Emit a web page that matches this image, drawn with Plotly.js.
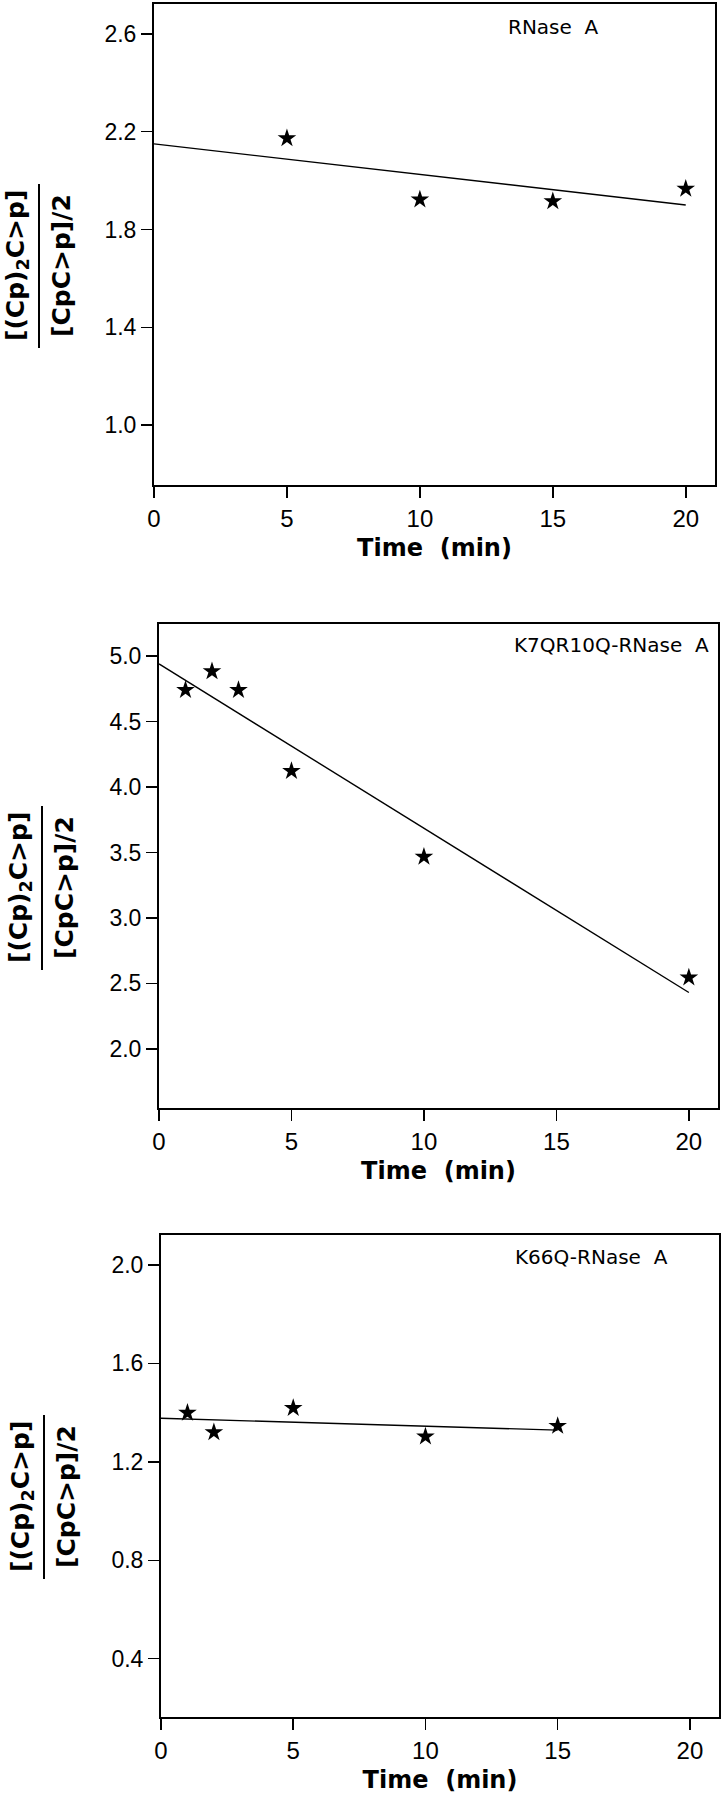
<!DOCTYPE html>
<html>
<head>
<meta charset="utf-8">
<script src="https://cdn.plot.ly/plotly-3.0.1.min.js"></script>
<style>
body { margin: 0; background: #fff; }
#chart { width: 724px; height: 1800px; }
</style>
</head>
<body>
<div id="chart"></div>
<script>
// RNase A
var wtTime = [5, 10, 15, 20];
var wtRatio = [2.173, 1.922, 1.915, 1.966];
var wtFitX = [0, 20];
var wtFitY = [2.15, 1.90];

// K7QR10Q-RNase A
var k7Time = [1, 2, 3, 5, 10, 20];
var k7Ratio = [4.741, 4.883, 4.741, 4.122, 3.467, 2.545];
var k7FitX = [0, 20];
var k7FitY = [4.94, 2.43];

// K66Q-RNase A
var k66Time = [1, 2, 5, 10, 15];
var k66Ratio = [1.399, 1.320, 1.419, 1.303, 1.346];
var k66FitX = [0, 15];
var k66FitY = [1.377, 1.329];

var panelNames = ['RNase\u00a0 A', 'K7QR10Q-RNase\u00a0 A', 'K66Q-RNase\u00a0 A'];
var xTicks = [0, 5, 10, 15, 20];
var yTicks1 = [1.0, 1.4, 1.8, 2.2, 2.6];
var yTicks2 = [2.0, 2.5, 3.0, 3.5, 4.0, 4.5, 5.0];
var yTicks3 = [0.4, 0.8, 1.2, 1.6, 2.0];

var W = 724, H = 1800;
var font = 'Liberation Sans, Arial, sans-serif';
var boldFont = 'DejaVu Sans, sans-serif';

// panel boxes in page pixels: left, right, top, bottom
var boxes = [
  {l: 154, r: 715, t: 4, b: 485, yr: [0.755, 2.722], ticks: yTicks1, titleY: 266, dx: 0,
   labelX: 506, labelY: 27},
  {l: 159, r: 718, t: 624, b: 1108, yr: [1.548, 5.245], ticks: yTicks2, titleY: 888, dx: 3,
   labelX: 512, labelY: 645},
  {l: 161, r: 719, t: 1235, b: 1717, yr: [0.163, 2.122], ticks: yTicks3, titleY: 1497, dx: 5,
   labelX: 513, labelY: 1257}
];

function xAxis(box, anchor) {
  return {
    domain: [box.l / W, box.r / W],
    anchor: anchor,
    range: [0, 21.1],
    tickvals: xTicks,
    ticks: 'outside', ticklen: 11, tickwidth: 1.5, tickcolor: '#000',
    showline: true, linewidth: 2, linecolor: '#000', mirror: true,
    showgrid: false, zeroline: false,
    tickfont: {family: font, size: 24, color: '#000'},
    title: {text: '<b>Time\u00a0 (min)</b>', standoff: 8,
            font: {family: boldFont, size: 24, color: '#000'}}
  };
}

function yAxis(box, anchor) {
  return {
    domain: [1 - box.b / H, 1 - box.t / H],
    anchor: anchor,
    range: box.yr,
    tickvals: box.ticks,
    tickformat: '.1f',
    ticks: 'outside', ticklen: 11, tickwidth: 1.5, tickcolor: '#000',
    showline: true, linewidth: 2, linecolor: '#000', mirror: true,
    showgrid: false, zeroline: false,
    tickfont: {family: font, size: 23, color: '#000'}
  };
}

function stars(x, y, n) {
  return {
    x: x, y: y, xaxis: 'x' + n, yaxis: 'y' + n,
    type: 'scatter', mode: 'markers',
    marker: {symbol: 'star', size: 14, color: '#000'},
    hoverinfo: 'x+y'
  };
}

function fit(x, y, n) {
  return {
    x: x, y: y, xaxis: 'x' + n, yaxis: 'y' + n,
    type: 'scatter', mode: 'lines',
    line: {color: '#000', width: 1.4},
    hoverinfo: 'skip'
  };
}

var data = [
  fit(wtFitX, wtFitY, ''), stars(wtTime, wtRatio, ''),
  fit(k7FitX, k7FitY, 2), stars(k7Time, k7Ratio, 2),
  fit(k66FitX, k66FitY, 3), stars(k66Time, k66Ratio, 3)
];

var annotations = [];
var shapes = [];
boxes.forEach(function(box, i) {
  var cy = 1 - box.titleY / H;
  annotations.push({
    xref: 'paper', yref: 'paper', x: (17 + box.dx) / W, y: cy,
    xanchor: 'center', yanchor: 'middle', textangle: -90, showarrow: false,
    text: '<b>[(Cp)<sub>2</sub>C&gt;p]</b>',
    font: {family: boldFont, size: 25, color: '#000'}
  });
  annotations.push({
    xref: 'paper', yref: 'paper', x: (61 + box.dx) / W, y: cy,
    xanchor: 'center', yanchor: 'middle', textangle: -90, showarrow: false,
    text: '<b>[CpC&gt;p]/2</b>',
    font: {family: boldFont, size: 25, color: '#000'}
  });
  shapes.push({
    type: 'line', xref: 'paper', yref: 'paper',
    x0: (39 + box.dx) / W, x1: (39 + box.dx) / W,
    y0: 1 - (box.titleY - 82) / H, y1: 1 - (box.titleY + 82) / H,
    line: {color: '#000', width: 2}
  });
  // name of the enzyme, top right of each panel
  annotations.push({
    xref: 'paper', yref: 'paper', x: box.labelX / W, y: 1 - box.labelY / H,
    xanchor: 'left', yanchor: 'middle', showarrow: false, text: panelNames[i],
    font: {family: boldFont, size: 20, color: '#000'}
  });
});

var layout = {
  width: W, height: H,
  margin: {l: 0, r: 0, t: 0, b: 0},
  showlegend: false,
  paper_bgcolor: '#fff', plot_bgcolor: '#fff',
  xaxis: xAxis(boxes[0], 'y'),
  yaxis: yAxis(boxes[0], 'x'),
  xaxis2: xAxis(boxes[1], 'y2'),
  yaxis2: yAxis(boxes[1], 'x2'),
  xaxis3: xAxis(boxes[2], 'y3'),
  yaxis3: yAxis(boxes[2], 'x3'),
  annotations: annotations,
  shapes: shapes
};

Plotly.newPlot('chart', data, layout, {displayModeBar: false, staticPlot: true});
</script>
</body>
</html>
